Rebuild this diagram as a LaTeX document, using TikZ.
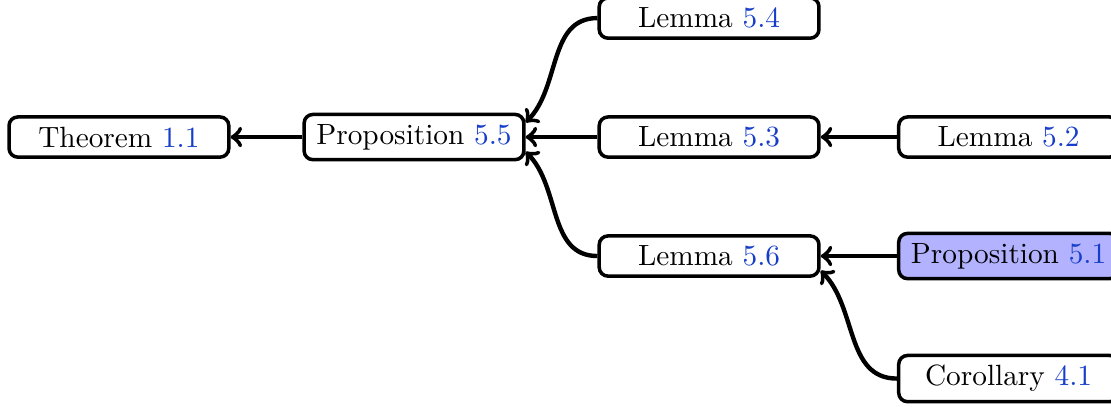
\documentclass[tikz,border=0pt]{standalone}
\usepackage{amsmath}
\usepackage{tikz}
\usepackage{color}
\definecolor{refblue}{RGB}{22,62,200}
\newcommand{\refnum}[1]{\textcolor{refblue}{#1}}

\begin{document}
\begin{tikzpicture}[x=100.7pt,y=40.6pt,
	res/.style={draw,very thick,rounded corners=3pt,minimum width=75pt,inner xsep=2.8pt,fill=white},
	cur/.style={res,fill=blue!30},
	dep/.style={->,line width=1.5pt}]
	\useasboundingbox (-0.403,-2.261) rectangle (3.362,1.152);
	\node[res] (thm11) at (0,0) {Theorem \refnum{1.1}};
	\node[res] (p55) at (1,0) {Proposition \refnum{5.5}};
	\node[res] (l54) at (2,1) {Lemma \refnum{5.4}};
	\node[res] (l53) at (2,0) {Lemma \refnum{5.3}};
	\node[res] (l56) at (2,-1) {Lemma \refnum{5.6}};
	\node[res] (l52) at (3.015,0) {Lemma \refnum{5.2}};
	\node[cur] (p51) at (3.015,-1) {Proposition \refnum{5.1}};
	\node[res] (c41) at (3.015,-2.03) {Corollary \refnum{4.1}};
	\draw[dep] (p55) -- (thm11);
	\draw[dep] (l53) -- (p55);
	\draw[dep] (l54.west) to[out=180,in=45] ([yshift=5pt]p55.east);
	\draw[dep] (l56.west) to[out=180,in=-45] ([yshift=-5pt]p55.east);
	\draw[dep] (l52) -- (l53);
	\draw[dep] (p51) -- (l56);
	\draw[dep] (c41.west) to[out=180,in=-45] ([yshift=-5pt]l56.east);
\end{tikzpicture}
\end{document}
